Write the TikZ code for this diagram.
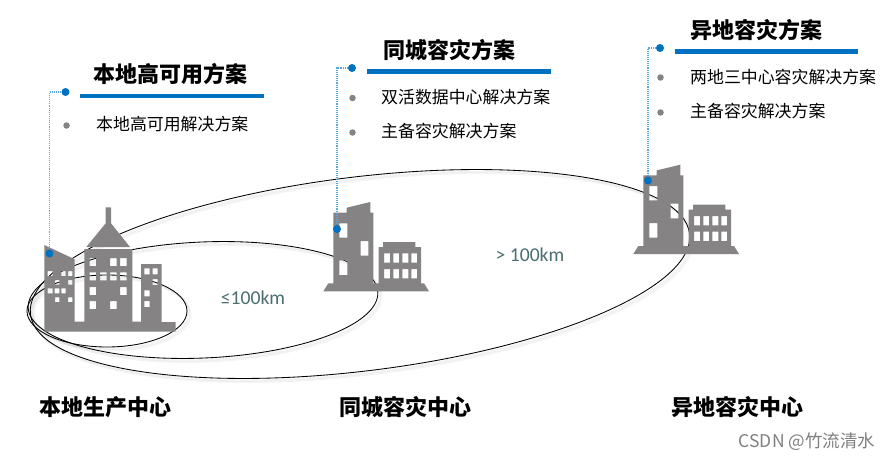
\documentclass[tikz,border=0pt]{standalone}
\usepackage{fontspec}
\setmainfont{Noto Sans CJK SC}
\newfontfamily\latinlabel{Carlito}
\newfontfamily\wmfont{Noto Sans CJK SC}
\definecolor{bldg}{HTML}{858383}
\definecolor{hblue}{HTML}{0070C0}
\definecolor{dotline}{HTML}{5BA6DC}
\definecolor{teal}{HTML}{4A6E70}
\begin{document}
\begin{tikzpicture}[x=1pt,y=-1pt,
  title/.style={font=\fontsize{22}{24}\selectfont\bfseries,text=black,inner sep=0pt},
  sub/.style={font=\fontsize{16.9}{18}\selectfont,text=black,inner sep=0pt,anchor=west},
  site/.style={font=\fontsize{22}{24}\selectfont\bfseries,text=black,inner sep=0pt},
  dist/.style={font=\fontsize{19.6}{22}\selectfont\latinlabel,text=teal,inner sep=0pt},
  hdot/.style={circle,fill=hblue,minimum size=8pt,inner sep=0pt},
  bullet/.style={circle,fill=bldg,minimum size=6.5pt,inner sep=0pt},
  rule/.style={draw=hblue,line width=4.6pt},
  leader/.style={draw=dotline,line width=1.1pt,densely dotted},
  orbit/.style={draw=black,line width=.85pt},
  orbitshadow/.style={draw=black!30,line width=2pt,opacity=.14},
  solid bldg/.style={fill=bldg,even odd rule,draw=none}]
\useasboundingbox (0,0) rectangle (891,460);
\fill[white] (0,0) rectangle (891,460);

% shadows of the three rings
\foreach \d in {2,3.5}{
  \draw[orbitshadow,shift={(\d pt,-\d pt)}] [rotate around={0:(107,311)}] (107,311) ellipse [x radius=80pt,y radius=36pt];
  \draw[orbitshadow,shift={(\d pt,-\d pt)}] [rotate around={2.5:(203,300)}] (203,300) ellipse [x radius=175pt,y radius=58pt];
  \draw[orbitshadow,shift={(\d pt,-\d pt)}] [rotate around={7:(360,274)}] (360,274) ellipse [x radius=332pt,y radius=97pt];
}
% rings
\draw[orbit,rotate around={0:(107,311)}] (107,311) ellipse [x radius=80pt,y radius=36pt];
\draw[orbit,rotate around={2.5:(203,300)}] (203,300) ellipse [x radius=175pt,y radius=58pt];
\draw[orbit,rotate around={7:(360,274)}] (360,274) ellipse [x radius=332pt,y radius=97pt];

% local building
\fill[solid bldg]
  (44.3,245) -- (74.7,259.3) -- (74.7,321.7) -- (84.3,321.7) -- (84.3,249) -- (132.3,249) -- (132.3,321.7)
  -- (141,321.7) -- (141,264) -- (161.7,264) -- (161.7,322) -- (175.7,322) -- (175.7,331.7) -- (44.3,331.7) -- cycle
  (47.7,271) rectangle (52.7,276) (61.3,271) rectangle (65.7,276) (68,271) rectangle (72.3,276)
  (55,280) rectangle (59.3,284.7) (68,280) rectangle (72.3,284.7)
  (47.7,288.3) rectangle (52.7,293.3) (54.7,288.3) rectangle (59.3,293.3) (61.3,288.3) rectangle (65.7,293.3)
  (55,297.3) rectangle (59.3,302) (68,297.3) rectangle (72.3,302)
  (89.7,258) rectangle (96,266) (110,258) rectangle (116.7,266) (120,258) rectangle (126.7,266)
  (89.7,272.3) rectangle (96,280.3) (100,272.3) rectangle (106.7,280.3) (110,272.3) rectangle (116.7,280.3) (120,272.3) rectangle (126.7,280.3)
  (89.7,287) rectangle (96,295) (120,287) rectangle (126.7,295)
  (89.7,301) rectangle (96,309) (110,301) rectangle (116.7,309)
  (144.3,268.3) rectangle (149.7,274.3) (152.7,268.3) rectangle (157.7,274.3)
  (152.7,279) rectangle (157.7,285)
  (144.3,290.3) rectangle (149.7,296.3)
  (144.3,301) rectangle (149.7,307);
\fill[solid bldg] (86.3,247) -- (105.7,223.3) -- (105.7,207.3) -- (111,207.3) -- (111,223.3) -- (130,247) -- cycle;

% two identical disaster-recovery buildings
\foreach \dx/\dy in {0/0,310/-37.3}{
\begin{scope}[shift={(\dx pt,-\dy pt)}]
\fill[solid bldg]
  (323.3,291.3) -- (328.3,283.3) -- (333.3,283.3) -- (333.3,212.7) -- (346.7,212.7) -- (346.7,207.7) -- (370.3,202)
  -- (370.3,212.7) -- (373.3,212.7) -- (373.3,283.3) -- (378.7,283.3) -- (378.7,247) -- (383,247) -- (383,242)
  -- (415.3,242) -- (415.3,247) -- (421,247) -- (421,283.3) -- (424,283.3) -- (429,291.3) -- cycle
  (339.3,223.3) rectangle (347.3,237.7)
  (360.7,241) rectangle (368.3,255.7)
  (339.3,260.3) rectangle (347.3,275)
  (384,253.3) rectangle (390,262.7) (393.3,253.3) rectangle (399,262.7) (402.3,253.3) rectangle (408.3,262.7) (411.3,253.3) rectangle (417,262.7)
  (384,269) rectangle (390,278.3) (393.3,269) rectangle (399,278.3) (402.3,269) rectangle (408.3,278.3) (411.3,269) rectangle (417,278.3);
\end{scope}}

% markers and leaders
\node[hdot] (h1) at (65.5,92) {};
\node[hdot] (b1) at (49.5,253.5) {};
\node[hdot] (h2) at (352,68) {};
\node[hdot] (b2) at (337,229) {};
\node[hdot] (h3) at (660,48) {};
\node[hdot] (b3) at (648,180.5) {};
\draw[leader] (h1) -| (b1);
\draw[leader] (h2) -| (b2);
\draw[leader] (h3) -| (b3);

% headings
\node[title] (t1) at (170,74) {本地高可用方案};
\draw[rule] (80,96) -- (264,96);
\node[title] (t2) at (449.5,50) {同城容灾方案};
\draw[rule] (367,71.5) -- (551,71.5);
\node[title] (t3) at (756.5,30) {异地容灾方案};
\draw[rule] (675,51.5) -- (858,51.5);

% bullet lists
\node[bullet] (p1) at (66.5,125.5) {};
\node[sub] (s1) at (96,124.5) {本地高可用解决方案};
\node[bullet] (p2) at (352.5,98) {};
\node[sub] (s2) at (381,97.5) {双活数据中心解决方案};
\node[bullet] (p3) at (352.5,132.5) {};
\node[sub] (s3) at (381,131.5) {主备容灾解决方案};
\node[bullet] (p4) at (660.5,77.5) {};
\node[sub] (s4) at (690,77) {两地三中心容灾解决方案};
\node[bullet] (p5) at (660.5,112.5) {};
\node[sub] (s5) at (690,111.5) {主备容灾解决方案};

% distances
\node[dist] (d1) at (253,298) {≤100km};
\node[dist] (d2) at (530,255) {> 100km};

% sites
\node[site] (c1) at (105,407) {本地生产中心};
\node[site] (c2) at (405.5,407) {同城容灾中心};
\node[site] (c3) at (737,407) {异地容灾中心};

% watermark
\node[font=\fontsize{17.5}{20}\selectfont\wmfont,text=black!50,inner sep=0pt] (wm) at (807,442) {CSDN @竹流清水};
\end{tikzpicture}
\end{document}
